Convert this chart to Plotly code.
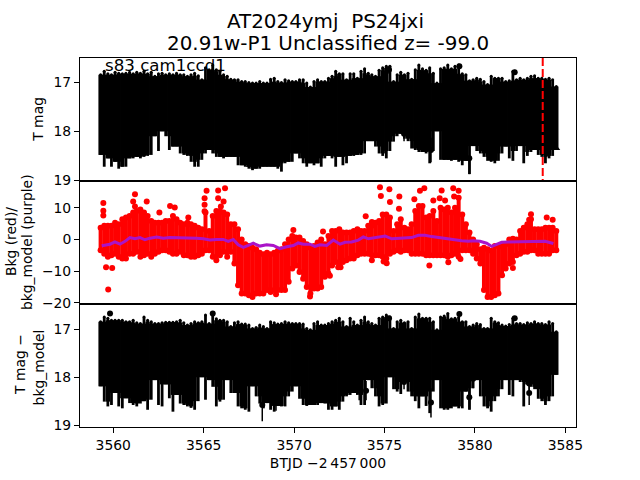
import plotly.graph_objects as go
from plotly.subplots import make_subplots

t_grid = [3559.3,3559.5,3559.7,3559.9,3560.1,3560.3,3560.5,3560.7,3560.9,3561.1,
3561.3,3561.5,3561.7,3561.9,3562.1,3562.3,3562.5,3562.7,3562.9,3563.1,
3563.3,3563.5,3563.7,3563.9,3564.1,3564.3,3564.5,3564.7,3564.9,3565.1,
3565.3,3565.5,3565.7,3565.9,3566.1,3566.3,3566.5,3566.7,3566.9,3567.1,
3567.3,3567.5,3567.7,3567.9,3568.1,3568.3,3568.5,3568.7,3568.9,3569.1,
3569.3,3569.5,3569.7,3569.9,3570.1,3570.3,3570.5,3570.7,3570.9,3571.1,
3571.3,3571.5,3571.7,3571.9,3572.1,3572.3,3572.5,
3572.7,3572.9,3573.1,3573.3,3573.5,3573.7,3573.9,3574.1,3574.3,3574.5,
3574.7,3574.9,3575.1,3575.3,3575.5,3575.7,3575.9,3576.1,3576.3,3576.5,
3576.7,3576.9,3577.1,3577.3,3577.5,3577.7,3577.9,3578.1,3578.3,3578.5,
3578.7,3578.9,3579.1,3579.3,3579.5,3579.7,3579.9,3580.1,3580.3,3580.5,
3580.7,3580.9,3581.1,3581.3,3581.5,3581.7,3581.9,3582.1,3582.3,3582.5,
3582.7,3582.9,3583.1,3583.3,3583.5,3583.7,3583.9,3584.1,3584.3,3584.5]

tmag_bright = [16.85,16.78,16.83,16.85,16.80,16.82,16.83,16.82,16.80,16.83,
16.80,16.82,16.78,16.83,16.80,16.88,16.83,16.82,16.85,16.83,
16.85,16.82,16.85,16.85,16.88,16.85,16.82,16.87,16.95,16.71,
16.75,16.65,16.75,16.78,16.85,16.88,16.94,16.95,16.95,16.99,
16.99,17.01,17.02,17.02,16.99,17.02,17.02,16.94,16.92,16.99,
17.01,16.95,16.97,16.99,16.99,16.95,16.95,17.02,17.10,16.99,
16.95,16.99,16.99,16.92,16.88,16.78,16.83,
16.83,16.95,16.83,16.83,16.92,16.78,16.73,16.82,16.85,16.88,
16.76,16.71,16.68,16.68,16.99,16.85,16.80,16.85,16.82,16.94,
16.75,16.65,16.73,16.76,16.71,16.82,17.02,16.73,16.71,16.65,
16.73,16.68,16.65,16.83,16.85,16.97,16.95,16.92,16.94,16.99,
17.05,16.88,16.92,16.92,16.92,16.99,16.97,16.78,16.95,16.92,
16.95,16.92,16.88,16.87,16.92,16.92,16.94,16.92,16.95,17.09]
tmag_faint = [18.48,18.72,18.55,18.72,18.62,18.76,18.72,18.72,18.55,18.55,
18.52,18.55,18.52,18.50,18.48,18.10,18.40,18.00,18.10,18.38,
18.31,18.31,18.45,18.48,18.50,18.62,18.72,18.72,18.58,18.45,
18.38,18.45,18.52,18.52,18.55,18.52,18.52,18.52,18.69,18.69,
18.72,18.76,18.79,18.76,18.76,18.72,18.72,18.72,18.72,18.76,
18.82,18.65,18.62,18.62,18.45,18.55,18.65,18.72,18.65,18.69,
18.65,18.72,18.55,18.50,18.55,18.72,18.52,
18.69,18.65,18.50,18.50,18.48,18.48,18.45,18.20,18.20,18.31,
18.45,18.50,18.55,18.40,18.21,18.10,18.05,18.15,18.20,18.35,
18.38,18.42,18.42,18.45,18.65,18.40,18.00,18.58,18.58,18.58,
18.60,18.58,18.62,18.69,18.60,18.87,18.30,18.40,18.45,18.52,
18.60,18.62,18.65,18.60,18.45,18.31,18.55,18.60,18.40,18.30,
18.65,18.50,18.42,18.38,18.48,18.52,18.65,18.55,18.50,18.38]

sub_bright = [16.84,16.74,16.77,16.81,16.81,16.81,16.81,16.84,16.84,16.81,
16.86,16.88,16.74,16.81,16.84,16.88,16.88,16.86,16.85,16.85,
16.85,16.84,16.81,16.86,16.91,16.88,16.84,16.86,16.84,16.70,
16.88,16.67,16.78,16.81,16.81,16.84,16.94,16.86,16.84,16.89,
16.89,16.91,16.98,16.96,16.91,16.94,16.98,16.84,16.86,16.89,
16.88,16.84,16.86,16.88,16.88,16.88,16.89,16.98,17.01,16.88,
16.84,16.91,16.91,16.88,16.84,16.81,16.77,
16.84,16.94,16.77,16.84,16.91,16.81,16.74,16.84,16.88,16.91,
16.77,16.74,16.70,16.74,16.98,16.84,16.81,16.86,16.84,16.98,
16.74,16.68,16.77,16.77,16.77,16.84,17.01,16.74,16.72,16.67,
16.78,16.77,16.75,16.84,16.84,16.94,16.91,16.88,16.90,16.98,
16.98,16.77,16.84,16.86,16.91,16.93,16.90,16.77,16.88,16.88,
16.90,16.86,16.88,16.84,16.88,16.88,16.90,16.84,16.88,17.05]
sub_faint = [18.19,18.51,18.61,18.58,18.33,18.61,18.65,18.44,18.54,18.58,
18.61,18.55,18.50,18.68,18.47,18.06,18.58,18.61,18.15,18.44,
18.72,18.37,18.55,18.58,18.61,18.64,18.68,18.50,18.00,18.47,
18.06,18.20,18.61,18.51,18.47,18.06,18.33,18.33,18.61,18.65,
18.68,18.72,18.19,18.40,18.55,18.65,18.54,18.68,18.72,18.60,
18.61,18.61,18.40,18.30,18.19,18.45,18.58,18.60,18.58,18.58,
18.58,18.54,18.55,18.68,18.68,18.61,18.68,
18.51,18.40,18.37,18.33,18.37,18.58,18.58,18.06,18.23,18.40,
18.61,18.58,18.55,18.00,18.25,18.30,18.35,18.10,18.30,18.40,
18.50,18.65,18.40,18.60,18.75,18.30,18.06,18.65,18.68,18.68,
18.65,18.61,18.65,18.65,18.30,18.68,18.23,18.06,18.40,18.61,
18.65,18.72,18.50,18.40,18.25,18.06,18.37,18.40,18.06,18.10,
18.61,18.15,18.20,18.25,18.45,18.50,18.58,18.50,18.40,17.95]

bkg_high = [3.7,4.3,4.3,4.3,5.3,4.8,6.4,6.9,7.4,8.5,
9.0,9.5,8.5,7.4,5.8,5.3,5.3,5.3,5.8,5.8,
7.4,6.4,5.3,4.8,5.3,4.8,4.3,3.7,3.2,8.5,
2.7,7.4,9.0,9.0,8.5,7.9,4.8,4.8,3.2,0.0,
-1.5,-2.1,-2.6,-3.1,-4.2,-4.7,-4.2,-4.7,-4.2,-3.6,
-3.1,-1.5,0.0,1.1,0.6,0.6,-0.5,-1.5,-2.6,-2.1,
-1.0,0.0,-1.5,1.1,2.7,2.7,3.2,
2.2,2.2,2.2,2.7,3.2,2.7,2.7,4.3,4.3,5.3,
5.8,7.9,7.9,6.9,2.7,4.8,6.4,3.7,3.2,4.8,
9.0,10.6,10.6,6.9,7.4,9.0,5.8,10.0,9.5,10.0,
8.5,10.0,13.2,7.9,4.8,2.2,0.0,-1.5,-3.1,-2.6,
-3.1,-3.6,-2.1,-2.1,-2.1,-1.5,0.0,0.0,0.0,2.7,
3.7,4.8,6.4,3.2,3.2,3.2,3.7,3.7,3.7,2.7]
bkg_low = [-3.4,-4.5,-5.5,-5.0,-4.5,-5.5,-6.0,-6.0,-4.5,-4.5,
-3.9,-5.5,-5.0,-4.5,-5.5,-4.5,-3.9,-3.4,-3.4,-3.9,
-4.5,-4.5,-3.9,-5.0,-5.0,-5.5,-5.5,-5.0,-4.5,-3.4,
-3.4,-5.5,-6.6,-5.0,-3.9,-5.5,-3.9,-7.6,-14.5,-17.1,
-17.1,-17.6,-18.2,-17.1,-17.1,-17.1,-16.0,-16.6,-16.0,-16.0,
-16.0,-16.0,-13.4,-9.2,-8.2,-10.3,-12.4,-15.0,-17.1,-15.5,
-15.5,-15.0,-11.8,-10.8,-8.2,-7.1,-8.2,
-7.1,-6.6,-6.0,-6.0,-5.0,-4.5,-4.5,-4.5,-5.0,-5.0,
-5.0,-5.5,-6.0,-4.5,-3.9,-3.4,-3.9,-3.4,-3.4,-4.5,
-4.5,-4.5,-4.5,-5.0,-5.0,-5.0,-5.0,-5.0,-5.0,-5.5,
-5.0,-4.5,-5.5,-3.4,-3.4,-3.4,-4.5,-6.0,-7.6,-16.0,
-18.2,-18.2,-17.6,-17.1,-11.3,-9.2,-7.6,-7.1,-5.0,-4.5,
-3.9,-3.9,-3.4,-3.4,-4.5,-4.5,-4.5,-4.5,-3.4,-3.4]

bkg_dot_t = [3559.45,3559.45,3559.45,3559.72,3559.6,3559.94,3561.2,3561.1,3561.2,3561.85,3562.55,
3563.14,3563.4,3564.15,3565.16,3565.05,3565.05,3565.05,3565.8,3566.18,3565.8,3566.1,3565.95,
3569.0,3569.96,3571.6,3572.44,3570.88,3574.75,3575.27,3574.8,3575.3,3575.82,3575.8,3576.96,
3577.2,3576.65,3577.7,3578.16,3578.05,3578.35,3578.8,3579.1,3578.85,3573.96,3574.3,3574.3,
3575.12,3574.95,3572.57,3577.48,3578.53,3579.2,3582.1,3583.1,3583.97,3584.3,3583.0,3571.98,3582.1]
bkg_dot_v = [11.5,9.05,7.6,-15.8,-8.8,-9.05,14.3,12.0,10.4,12.0,8.5,
10.6,10.1,6.9,15.4,13.0,11.0,8.9,15.5,16.2,13.0,12.0,10.4,
-17.3,3.0,2.5,-8.8,-18.0,16.5,15.9,13.7,11.8,13.6,9.7,15.4,
16.2,12.7,12.3,15.5,13.0,12.3,16.2,15.4,13.6,7.3,5.5,-6.6,
-7.5,-7.0,-8.8,-8.2,-7.2,-6.2,-9.0,8.0,6.9,6.2,6.2,-11.5,0.2]

model_t = [3559.36,3559.82,3560.09,3560.37,3560.65,3560.92,3561.20,3561.48,3561.75,3562.03,
3562.40,3562.77,3563.13,3563.50,3563.87,3564.24,3564.61,3564.98,3565.35,3565.72,
3566.08,3566.36,3566.64,3566.91,3567.19,3567.47,3567.74,3568.11,3568.48,3568.85,
3569.22,3569.59,3569.96,3570.23,3570.51,3570.88,3571.15,3571.43,3571.80,3572.17,3572.54,
3572.82,3573.18,3573.55,3573.83,3574.11,3574.47,3575.03,3575.40,3575.76,3576.13,
3576.50,3576.87,3577.24,3577.61,3577.98,3578.35,3578.81,3579.27,3579.64,3579.91,
3580.28,3580.65,3580.93,3581.20,3581.48,3581.85,3582.22,3582.59,3583.05,3583.51,3583.88,3584.34]
model_v = [-2.0,-1.5,-0.8,-1.5,-0.6,0.6,0.2,0.6,-0.1,0.4,
0.8,0.4,0.6,0.6,0.4,0.6,0.4,0.2,-0.2,0.0,
0.0,-0.6,0.0,-1.7,-2.5,-1.9,-1.2,-2.1,-1.7,-1.9,
-2.9,-2.3,-1.9,-1.1,-1.5,-1.5,-2.2,-1.7,-1.9,-0.2,-1.5,
-0.9,-0.8,-0.2,0.8,0.2,0.6,1.1,0.2,0.4,0.4,
0.6,1.3,1.3,0.9,0.6,0.2,0.0,-0.4,-0.6,-0.4,
-0.6,-1.2,-2.2,-1.5,-0.9,-0.8,-0.8,-0.8,-0.6,-0.8,-0.6,-1.3]

top_dot_t = [3575.25,3579.14,3582.2,3579.69,3579.9,3577.57,3576.08]
top_dot_m = [16.75,16.68,16.80,18.55,18.10,18.38,18.05]
top_dot_up = [0.08,0.05,0.05,0.30,0.20,0.25,0.20]
top_dot_dn = [0.08,0.05,0.05,0.32,0.20,0.25,0.15]
tri_t = [3567.65,3568.3,3568.76,3583.14,3584.4]
tri_m = [18.67,18.63,18.63,18.33,18.33]

sub_dot_t = [3559.82,3565.5,3568.24,3569.0,3579.14,3582.2,3577.57,3579.69,3579.9,3583.0,3583.0,3576.08,3573.98,3573.6,3575.25,3583.66]
sub_dot_m = [16.67,16.67,18.58,18.40,16.68,16.77,18.53,18.42,18.03,18.33,18.13,18.10,18.28,18.28,16.77,18.16]
sub_dot_up = [0.05,0.05,0.34,0.25,0.05,0.05,0.30,0.25,0.20,0.20,0.20,0.15,0.20,0.20,0.05,0.15]
sub_dot_dn = [0.05,0.05,0.34,0.30,0.05,0.05,0.31,0.25,0.20,0.25,0.20,0.15,0.20,0.20,0.05,0.20]

event_t = 3583.75
tick_x = [3560,3565,3570,3575,3580,3585]
FONT = "DejaVu Sans"

fig = make_subplots(rows=3, cols=1, shared_xaxes=True, vertical_spacing=0)

def bars(t, bright, faint, color, thick, size, row):
    gaps = [f - b for b, f in zip(bright, faint)]
    fig.add_trace(go.Scatter(x=t, y=bright, mode="markers",
        marker=dict(color=color, size=size),
        error_y=dict(type="data", symmetric=False, array=gaps,
                     arrayminus=[0] * len(gaps), color=color, thickness=thick, width=0),
        showlegend=False), row=row, col=1)

def black_band(bright, faint, row):
    n = len(bright)
    # solid core: only what a point's two neighbours also reach
    core_b = [max(bright[max(i - 1, 0):i + 2]) for i in range(n)]
    core_f = [min(faint[max(i - 1, 0):i + 2]) for i in range(n)]
    bars(t_grid, core_b, core_f, "black", 4.4, 1, row)
    # narrow spikes out to each sample's own extent
    bars(t_grid, bright, faint, "black", 2.8, 3, row)

black_band(tmag_bright, tmag_faint, 1)
fig.add_trace(go.Scatter(x=top_dot_t, y=top_dot_m, mode="markers",
    marker=dict(color="black", size=6),
    error_y=dict(type="data", symmetric=False, array=top_dot_dn, arrayminus=top_dot_up,
                 color="black", thickness=1.5, width=0), showlegend=False), row=1, col=1)
fig.add_trace(go.Scatter(x=tri_t, y=tri_m, mode="markers",
    marker=dict(color="black", size=10, symbol="triangle-up"), showlegend=False), row=1, col=1)
fig.add_trace(go.Scatter(x=[event_t, event_t], y=[16.51, 19.01], mode="lines",
    line=dict(color="red", width=2, dash="8px,3px"), showlegend=False), row=1, col=1)

bars(t_grid, bkg_high, bkg_low, "red", 4, 6, 2)
fig.add_trace(go.Scatter(x=t_grid, y=bkg_low, mode="markers",
    marker=dict(color="red", size=6), showlegend=False), row=2, col=1)
fig.add_trace(go.Scatter(x=bkg_dot_t, y=bkg_dot_v, mode="markers",
    marker=dict(color="red", size=6), showlegend=False), row=2, col=1)
fig.add_trace(go.Scatter(x=model_t, y=model_v, mode="lines",
    line=dict(color="#AA14C8", width=3), showlegend=False), row=2, col=1)

black_band(sub_bright, sub_faint, 3)
fig.add_trace(go.Scatter(x=sub_dot_t, y=sub_dot_m, mode="markers",
    marker=dict(color="black", size=6),
    error_y=dict(type="data", symmetric=False, array=sub_dot_dn, arrayminus=sub_dot_up,
                 color="black", thickness=1.5, width=0), showlegend=False), row=3, col=1)

axis = dict(showgrid=False, zeroline=False, showline=True, mirror=True, linecolor="black",
            linewidth=1, ticks="outside", ticklen=5, tickwidth=1, tickcolor="black",
            tickfont=dict(family=FONT, size=13.9, color="black"))
for r in (1, 2, 3):
    fig.update_xaxes(range=[3558.16, 3585.59], row=r, col=1, **axis)
fig.update_xaxes(showticklabels=False, ticks="", row=1, col=1)
fig.update_xaxes(showticklabels=False, ticks="", row=2, col=1)
fig.update_xaxes(tickvals=tick_x, ticktext=[str(v) for v in tick_x], row=3, col=1,
    title=dict(text="BTJD \u22122\u2009457\u2009000", standoff=6,
               font=dict(family=FONT, size=13.9, color="black")))
fig.update_yaxes(range=[19.01, 16.51], tickvals=[17, 18, 19], row=1, col=1, **axis)
fig.update_yaxes(range=[-20.4, 18.47], tickvals=[-20, -10, 0, 10], row=2, col=1, **axis)
fig.update_yaxes(range=[19.04, 16.47], tickvals=[17, 18, 19], row=3, col=1, **axis)

def note(text, px, py, size=13.9, angle=0, xanchor="center"):
    fig.add_annotation(text=text, textangle=angle, showarrow=False, xref="paper", yref="paper",
        x=(px - 80) / 496, y=(427.2 - py) / 369.6, xanchor=xanchor, yanchor="middle",
        font=dict(family=FONT, size=size, color="black"))

note("T mag", 38.5, 119, angle=-90)
note("Bkg (red)/", 11, 242, angle=-90)
note("bkg_model (purple)", 27, 242, angle=-90)
note("T mag \u2212", 20, 365, angle=-90)
note("bkg_model", 38.5, 368, angle=-90)
note("s83 cam1ccd1", 103, 65, size=16.67, xanchor="left")
note("AT2024ymj  PS24jxi", 325, 21, size=19.9)
note("20.91w-P1 Unclassified z= -99.0", 328, 43, size=19.9)

fig.update_layout(width=640, height=480, autosize=False, paper_bgcolor="white", plot_bgcolor="white",
    margin=dict(l=80, r=64, t=57.6, b=52.8))
# drop the page body's default 8 px margin so the figure fills the window
fig.write_html("out.html", post_script="document.body.style.margin='0';",
               config=dict(displayModeBar=False))
